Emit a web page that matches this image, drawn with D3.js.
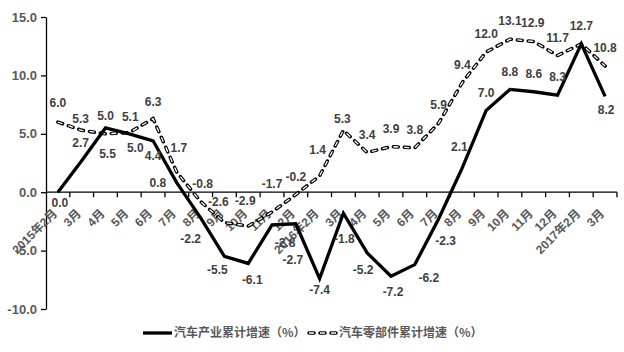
<!DOCTYPE html>
<html>
<head>
<meta charset="utf-8">
<script src="https://cdn.jsdelivr.net/npm/d3@7"></script>
<style>
  body { margin: 0; background: #fff; }
  svg { display: block; }
  text { font-family: "Liberation Sans", "Noto Sans CJK SC", sans-serif; font-weight: bold; }
</style>
</head>
<body>
<svg id="chart" width="624" height="352"></svg>
<script>
// month labels along the x axis
const categories = ["2015年2月", "3月", "4月", "5月", "6月", "7月", "8月", "9月", "10月", "11月", "12月",
  "2016年2月", "3月", "4月", "5月", "6月", "7月", "8月", "9月", "10月", "11月", "12月",
  "2017年2月", "3月"];
// 汽车产业累计增速 (%)
const industry = [0.0, 2.7, 5.5, 5.0, 4.4, 0.8, -2.2, -5.5, -6.1, -2.8, -2.7,
  -7.4, -1.8, -5.2, -7.2, -6.2, -2.3, 2.1, 7.0, 8.8, 8.6, 8.3, 12.7, 8.2];
// 汽车零部件累计增速 (%)
const parts = [6.0, 5.3, 5.0, 5.1, 6.3, 1.7, -0.8, -2.6, -2.9, -1.7, -0.2,
  1.4, 5.3, 3.4, 3.9, 3.8, 5.9, 9.4, 12.0, 13.1, 12.9, 11.7, 12.7, 10.8];
const yTicks = [-10, -5, 0, 5, 10, 15];
const seriesNames = ["汽车产业累计增速（%）", "汽车零部件累计增速（%）"];

const svg = d3.select("#chart");
const fmt = d => d.toFixed(1);

const x = d3.scaleBand().domain(d3.range(categories.length)).range([46, 617]);
const y = d3.scaleLinear().domain([-10, 15]).range([309, 17]);
const cx = i => x(i) + x.bandwidth() / 2;

// y axis
const yAxis = svg.append("g")
    .attr("transform", "translate(46,0)")
    .call(d3.axisLeft(y).tickValues(yTicks).tickFormat(fmt).tickSize(5).tickSizeOuter(0));
yAxis.select(".domain").attr("stroke", "#000").attr("stroke-width", 1.3);
yAxis.selectAll(".tick line").attr("stroke", "#000").attr("stroke-width", 1.3);
yAxis.selectAll(".tick text")
    .attr("fill", "#595959")
    .attr("font-size", 13)
    .attr("x", -9)
    .style("font-family", "Liberation Sans");

// x axis at zero, ticks between categories
const xAxis = svg.append("g").attr("transform", `translate(0,${y(0)})`);
xAxis.append("line")
    .attr("x1", x.range()[0]).attr("x2", x.range()[1])
    .attr("stroke", "#000").attr("stroke-width", 1.3);
xAxis.selectAll("line.tick")
    .data(d3.range(1, categories.length + 1))
    .enter().append("line")
    .attr("class", "tick")
    .attr("x1", i => x.range()[0] + i * x.step())
    .attr("x2", i => x.range()[0] + i * x.step())
    .attr("y1", 0).attr("y2", 5)
    .attr("stroke", "#000").attr("stroke-width", 1.3);
xAxis.selectAll("text")
    .data(categories)
    .enter().append("text")
    .attr("transform", (d, i) => `translate(${cx(i) - 3},${19}) rotate(-45)`)
    .attr("text-anchor", "end")
    .attr("dy", "0.35em")
    .attr("font-size", 12)
    .attr("fill", "#595959")
    .text(d => d);

const line = d3.line().x((d, i) => cx(i)).y(d => y(d));

// dashed hollow series: black round-capped dashes with a thin white core
function hollowDash(sel) {
  sel.append("path")
      .attr("fill", "none")
      .attr("stroke", "#000")
      .attr("stroke-width", 3.5)
      .attr("stroke-linecap", "round")
      .attr("stroke-dasharray", "5 6");
  sel.append("path")
      .attr("fill", "none")
      .attr("stroke", "#fff")
      .attr("stroke-width", 1.3)
      .attr("stroke-dasharray", "5 6");
}
const partsG = svg.append("g");
hollowDash(partsG);
partsG.selectAll("path").datum(parts).attr("d", line);

// solid series
svg.append("path")
    .datum(industry)
    .attr("fill", "none")
    .attr("stroke", "#000")
    .attr("stroke-width", 3.3)
    .attr("d", line);

// data labels (solid series below the point up to 2016年7月, above after)
const indNudge = { 0: [2, -5], 1: [-1, -34], 2: [2, 10], 3: [6, -2], 4: [0, -1], 5: [-19, -16],
  6: [-10, 5], 7: [-7, -3], 8: [4, 0], 9: [13, 2], 10: [-3, 20], 11: [0, -5], 12: [1, 10],
  13: [-4, 1], 14: [2, 0], 15: [14, -3], 16: [7, 6], 17: [-3, -3], 23: [1, -3] };
const partNudge = { 0: [0, -1], 1: [-1, 7], 3: [1, 2], 4: [0, 1], 5: [2, -7], 6: [2, 0],
  7: [-6, -3], 8: [-3, -7], 9: [0, -10], 11: [-2, -8], 12: [-1, 7], 20: [-1, -1] };

// where both series share a value only one label is shown
svg.append("g").selectAll("text")
    .data(industry)
    .enter().append("text")
    .attr("x", (d, i) => cx(i) + (indNudge[i] ? indNudge[i][0] : 0))
    .attr("y", (d, i) => {
      const below = i < 17 || i === 23;
      return y(d) + (below ? 16 : -18) + (indNudge[i] ? indNudge[i][1] : 0);
    })
    .attr("dy", "0.35em")
    .attr("text-anchor", "middle")
    .attr("font-size", 12)
    .attr("fill", "#404040")
    .text((d, i) => d === parts[i] ? "" : fmt(d));

svg.append("g").selectAll("text")
    .data(parts)
    .enter().append("text")
    .attr("x", (d, i) => cx(i) + (partNudge[i] ? partNudge[i][0] : 0))
    .attr("y", (d, i) => y(d) - 18 + (partNudge[i] ? partNudge[i][1] : 0))
    .attr("dy", "0.35em")
    .attr("text-anchor", "middle")
    .attr("font-size", 12)
    .attr("fill", "#404040")
    .text(fmt);

// legend
const legend = svg.append("g").attr("transform", "translate(0,333)");
legend.append("line")
    .attr("x1", 143).attr("x2", 172)
    .attr("stroke", "#000").attr("stroke-width", 3.3);
legend.append("text")
    .attr("x", 174).attr("dy", "0.35em")
    .attr("font-size", 12).attr("fill", "#595959")
    .style("font-family", "Noto Sans CJK SC")
    .text(seriesNames[0]);
const legDash = legend.append("g");
hollowDash(legDash);
legDash.selectAll("path").attr("d", "M309,0H337");
legend.append("text")
    .attr("x", 339).attr("dy", "0.35em")
    .attr("font-size", 12).attr("fill", "#595959")
    .style("font-family", "Noto Sans CJK SC")
    .text(seriesNames[1]);
</script>
</body>
</html>
